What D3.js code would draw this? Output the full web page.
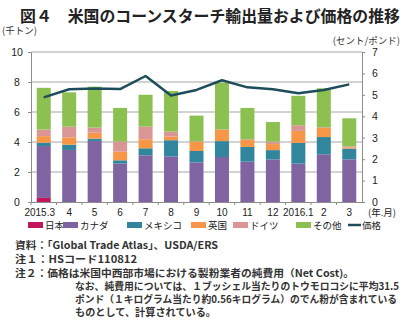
<!DOCTYPE html>
<html>
<head>
<meta charset="utf-8">
<script src="https://cdn.jsdelivr.net/npm/d3@7"></script>
<style>
body { margin: 0; background: #fff; }
svg { font-family: "Noto Sans CJK JP", "Noto Sans", sans-serif; }
</style>
</head>
<body>
<svg id="body" width="408" height="334"></svg>
<script>
let body = d3.select("#body")

// data (thousand tons, cents/pound)
let months = ["2015.3", "4", "5", "6", "7", "8", "9", "10", "11", "12", "2016.1", "2", "3"]
let japan   = [0.27, 0, 0, 0, 0, 0, 0, 0, 0, 0, 0, 0, 0]
let canada  = [3.46, 3.47, 4.07, 2.56, 3.11, 3.04, 2.64, 3.0, 2.69, 2.84, 2.56, 3.18, 2.84]
let mexico  = [0.22, 0.35, 0.15, 0.22, 0.47, 1.08, 0.76, 1.06, 0.98, 0.62, 1.38, 1.15, 0.72]
let uk      = [0.44, 0.49, 0.4, 0.58, 0.6, 0.24, 0.6, 0.74, 0.46, 0.4, 0.8, 0.6, 0.08]
let germany = [0.44, 0.71, 0.34, 0.67, 0.84, 0.33, 0.05, 0.04, 0.05, 0.16, 0.38, 0.05, 0.07]
let other   = [2.78, 2.29, 2.73, 2.24, 2.13, 2.71, 1.71, 3.11, 2.09, 1.31, 1.96, 2.6, 1.87]
let price   = [4.88, 5.26, 5.3, 5.27, 5.88, 4.97, 5.23, 5.68, 5.35, 5.26, 5.07, 5.23, 5.49]

let seriesNames = ["日本", "カナダ", "メキシコ", "英国", "ドイツ", "その他"]
let seriesColors = ["#c2185b", "#8064a2", "#31859c", "#f79646", "#d99694", "#8cc152"]
let lineColor = "#1d4d5b"
let leftTicks = [0, 2, 4, 6, 8, 10]
let rightTicks = [0, 1, 2, 3, 4, 5, 6, 7]

//Set dimensions of plot area
let plotLeft = 31, plotRight = 362, plotTop = 52, plotBottom = 202
let numFont = "Liberation Sans, Arial, sans-serif"

let rows = months.map((m, i) => ({
	month: m,
	"日本": japan[i], "カナダ": canada[i], "メキシコ": mexico[i],
	"英国": uk[i], "ドイツ": germany[i], "その他": other[i],
	price: price[i]
}))

let stacked = d3.stack().keys(seriesNames)(rows)

//set scales
let xscale = d3.scaleBand()
	.domain(months)
	.range([plotLeft, plotRight])
	.paddingInner(0.45)
	.paddingOuter(0.225)

let yscale = d3.scaleLinear()
	.domain([0, 10])
	.range([plotBottom, plotTop])

let y2scale = d3.scaleLinear()
	.domain([0, 7])
	.range([plotBottom, plotTop])

//title
body.append("text")
	.attr("x", 20)
	.attr("y", 22)
	.attr("font-size", 16)
	.attr("font-weight", "bold")
	.attr("fill", "#222")
	.attr("textLength", 380)
	.attr("lengthAdjust", "spacingAndGlyphs")
	.text("図４　米国のコーンスターチ輸出量および価格の推移")

//unit labels
body.append("text")
	.attr("x", 2)
	.attr("y", 34)
	.attr("font-size", 9.5)
	.attr("fill", "#333")
	.text("(千トン)")

body.append("text")
	.attr("x", 400)
	.attr("y", 44)
	.attr("font-size", 9.5)
	.attr("fill", "#333")
	.style("text-anchor", "end")
	.text("(セント/ポンド)")

//gridlines
body.append("g").selectAll("line")
	.data(leftTicks.filter(d => d > 0))
	.enter()
	.append("line")
	.attr("x1", plotLeft)
	.attr("x2", plotRight)
	.attr("y1", d => yscale(d))
	.attr("y2", d => yscale(d))
	.attr("stroke", "#a6a6a6")
	.attr("stroke-width", 1)

//bars
body.append("g").selectAll("g")
	.data(stacked)
	.enter()
	.append("g")
	.attr("fill", (d, i) => seriesColors[i])
	.selectAll("rect")
	.data(d => d)
	.enter()
	.append("rect")
	.attr("x", d => xscale(d.data.month))
	.attr("width", xscale.bandwidth())
	.attr("y", d => yscale(d[1]))
	.attr("height", d => yscale(d[0]) - yscale(d[1]))

//left axis
let yAxis = body.append("g")
	.attr("transform", "translate(" + plotLeft + ",0)")
	.call(d3.axisLeft(yscale).tickValues(leftTicks).tickFormat(d3.format("d")).tickSize(3).tickPadding(8))
yAxis.select(".domain").attr("stroke", "#8c8c8c")
yAxis.selectAll(".tick line").attr("stroke", "#8c8c8c")
yAxis.selectAll("text").attr("font-size", 10.5).attr("fill", "#222").attr("font-family", numFont)
	.style("text-anchor", "middle").attr("x", -14)

//right axis
let y2Axis = body.append("g")
	.attr("transform", "translate(" + plotRight + ",0)")
	.call(d3.axisRight(y2scale).tickValues(rightTicks).tickFormat(d3.format("d")).tickSize(3).tickPadding(7))
y2Axis.select(".domain").attr("stroke", "#8c8c8c")
y2Axis.selectAll(".tick line").attr("stroke", "#8c8c8c")
y2Axis.selectAll("text").attr("font-size", 10.5).attr("fill", "#222").attr("font-family", numFont)

//x axis
let step = xscale.step()
let xAxis = body.append("g")
	.attr("transform", "translate(0," + plotBottom + ")")
	.call(d3.axisBottom(xscale).tickSize(0).tickPadding(7))
xAxis.select(".domain").attr("stroke", "#8c8c8c")
xAxis.selectAll("text").attr("font-size", 10).attr("fill", "#222").attr("font-family", numFont)
xAxis.selectAll(".tick").filter(d => d == "2015.3").select("text").attr("dx", -4)
xAxis.selectAll(".sep")
	.data(months)
	.enter()
	.append("line")
	.attr("class", "sep")
	.attr("x1", d => xscale(d) - xscale.paddingInner() * step / 2)
	.attr("x2", d => xscale(d) - xscale.paddingInner() * step / 2)
	.attr("y1", 0)
	.attr("y2", 3)
	.attr("stroke", "#8c8c8c")

body.append("text")
	.attr("x", 368)
	.attr("y", 216)
	.attr("font-size", 9.5)
	.attr("fill", "#222")
	.text("(年.月)")

//price line
let priceLine = d3.line()
	.x(d => xscale(d.month) + xscale.bandwidth() / 2)
	.y(d => y2scale(d.price))

body.append("path")
	.datum(rows)
	.attr("d", priceLine)
	.attr("fill", "none")
	.attr("stroke", lineColor)
	.attr("stroke-width", 2.5)
	.attr("stroke-linejoin", "round")

//legend
let legendX = [28, 63, 127, 191, 233, 296]
let legend = body.append("g").selectAll("g")
	.data(seriesNames)
	.enter()
	.append("g")
	.attr("transform", (d, i) => "translate(" + legendX[i] + ",222)")
legend.append("rect")
	.attr("width", 15)
	.attr("height", 6)
	.attr("fill", (d, i) => seriesColors[i])
legend.append("text")
	.attr("x", 17)
	.attr("y", 7)
	.attr("font-size", 9.5)
	.attr("fill", "#222")
	.text(d => d)

body.append("line")
	.attr("x1", 348).attr("x2", 361)
	.attr("y1", 225).attr("y2", 225)
	.attr("stroke", lineColor)
	.attr("stroke-width", 2.5)
body.append("text")
	.attr("x", 362)
	.attr("y", 229)
	.attr("font-size", 9.5)
	.attr("fill", "#222")
	.text("価格")

//notes
let notes = [
	{x: 15, y: 249, w: 203, t: "資料：「Global Trade Atlas」、USDA/ERS"},
	{x: 15, y: 263, w: 122, t: "注１：HSコード110812"},
	{x: 15, y: 277, w: 339, t: "注２：価格は米国中西部市場における製粉業者の純費用（Net Cost)。"},
	{x: 75, y: 290, w: 324, t: "なお、純費用については、１ブッシェル当たりのトウモロコシに平均31.5"},
	{x: 75, y: 303, w: 322, t: "ポンド（１キログラム当たり約0.56キログラム）のでん粉が含まれている"},
	{x: 75, y: 316, w: 141, t: "ものとして、計算されている。"}
]
body.append("g").selectAll("text")
	.data(notes)
	.enter()
	.append("text")
	.attr("x", d => d.x)
	.attr("y", d => d.y)
	.attr("font-size", 10)
	.attr("font-weight", "bold")
	.attr("fill", "#333")
	.attr("textLength", d => d.w)
	.attr("lengthAdjust", "spacingAndGlyphs")
	.text(d => d.t)
</script>
</body>
</html>
